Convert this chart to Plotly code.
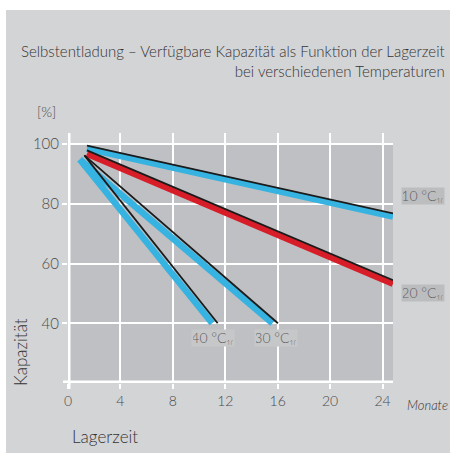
import plotly.graph_objects as go

# ---- data ----
x_ticks = [0, 4, 8, 12, 16, 20, 24]
y_ticks = [40, 60, 80, 100]

months_10 = [1.45, 24.8]
cap_10 = [98.5, 75.7]
edge_months_10 = [1.45, 24.8]
edge_cap_10 = [99.5, 76.8]

months_20 = [1.45, 24.8]
cap_20 = [96.75, 53.2]
edge_months_20 = [1.45, 24.8]
edge_cap_20 = [97.9, 54.4]

months_30 = [0.9, 15.6]
cap_30 = [94.8, 40.0]
edge_months_30 = [1.25, 16.02]
edge_cap_30 = [96.2, 40.0]

months_40 = [0.9, 11.0]
cap_40 = [94.8, 40.0]
edge_months_40 = [1.25, 11.42]
edge_cap_40 = [96.2, 40.0]

labels = ["10 °C", "20 °C", "30 °C", "40 °C"]
label_sub = "10"
label_x = [25.4, 25.4, 15.9, 11.1]
label_y = [82.7, 50.1, 35.0, 35.0]

title_text = "Selbstentladung – Verfügbare Kapazität als Funktion der Lagerzeit<br>bei verschiedenen Temperaturen"

# ---- styles ----
PANEL = "#d3d4d6"
PLOTBG = "#bfc0c3"
BLUE = "#36b3e1"
RED = "#d71d27"
EDGE = "#1b1b1b"
FONT = "Lato"
label_anchor = ["left", "left", "center", "center"]
label_bg = ["#bcbdbf", "#bcbdbf", "#c6c7c9", "#c6c7c9"]

X_RANGE = [0, 24.8]
Y_RANGE = [20, 103.7]

fig = go.Figure()

series = [
    (months_10, cap_10, edge_months_10, edge_cap_10, BLUE),
    (months_20, cap_20, edge_months_20, edge_cap_20, RED),
    (months_30, cap_30, edge_months_30, edge_cap_30, BLUE),
    (months_40, cap_40, edge_months_40, edge_cap_40, BLUE),
]
for mx, cy, ex, ey, col in series:
    fig.add_trace(go.Scatter(x=mx, y=cy, mode="lines", line=dict(color=col, width=6.5),
                             hoverinfo="skip", showlegend=False))
for mx, cy, ex, ey, col in series:
    fig.add_trace(go.Scatter(x=ex, y=ey, mode="lines", line=dict(color=EDGE, width=1.8),
                             hoverinfo="skip", showlegend=False))

W, H = 450, 455
L, R, T, B = 68, 57, 133, 72
PW, PH = W - L - R, H - T - B

def px_x(p):
    return (p - L) / PW

def px_y(p):
    return (H - B - p) / PH

def dx_paper(v):
    return (v - X_RANGE[0]) / (X_RANGE[1] - X_RANGE[0])

def dy_paper(v):
    return (v - Y_RANGE[0]) / (Y_RANGE[1] - Y_RANGE[0])

fig.update_layout(
    width=W, height=H,
    margin=dict(l=L, r=R, t=T, b=B, pad=0),
    paper_bgcolor=PANEL,
    plot_bgcolor=PANEL,
    font=dict(family=FONT, color="#4a4a4a", size=13, weight=300),
    showlegend=False,
    xaxis=dict(range=X_RANGE, tickvals=x_ticks, showgrid=True, gridcolor="white", gridwidth=2,
               zeroline=False, showline=False, ticks="outside", ticklen=5, tickcolor="white",
               tickwidth=2, tickfont=dict(size=14, color="#4a4a4a", family=FONT, weight=300)),
    yaxis=dict(range=Y_RANGE, tickvals=y_ticks, showgrid=True, gridcolor="white", gridwidth=2,
               zeroline=False, showline=False, ticks="outside", ticklen=5, tickcolor="white",
               tickwidth=2, tickfont=dict(size=15, color="#4a4a4a", family=FONT, weight=300)),
)

shapes = [
    dict(type="rect", xref="x", yref="y", x0=X_RANGE[0], x1=X_RANGE[1], y0=20, y1=100,
         fillcolor=PLOTBG, line=dict(width=0), layer="below"),
    dict(type="line", xref="x", yref="paper", x0=0, x1=0, y0=px_y(389), y1=1.0,
         line=dict(color="white", width=5), layer="above"),
    dict(type="line", xref="paper", yref="y", x0=px_x(63), x1=1.0, y0=20, y1=20,
         line=dict(color="white", width=5), layer="above"),
    dict(type="rect", xref="paper", yref="paper", x0=px_x(-20), x1=px_x(6), y0=px_y(480), y1=px_y(-20),
         fillcolor="white", line=dict(width=0), layer="above"),
    dict(type="rect", xref="paper", yref="paper", x0=px_x(-20), x1=px_x(480), y0=px_y(10), y1=px_y(-20),
         fillcolor="white", line=dict(width=0), layer="above"),
    dict(type="rect", xref="paper", yref="paper", x0=px_x(-20), x1=px_x(480), y0=px_y(480), y1=px_y(453),
         fillcolor="white", line=dict(width=0), layer="above"),
]
fig.update_layout(shapes=shapes)

ann = []
for t, lx, ly, anc, bg in zip(labels, label_x, label_y, label_anchor, label_bg):
    ann.append(dict(x=dx_paper(lx), y=dy_paper(ly), xref="paper", yref="paper",
                    text=t + "<span style='font-size:7px;baseline-shift:-3px'>" + label_sub + "</span>",
                    showarrow=False, xanchor=anc, yanchor="middle", bgcolor=bg, width=40, height=14,
                    borderpad=1, font=dict(size=14, color="#606060", family=FONT, weight=300)))

ann += [
    dict(x=px_x(447), y=px_y(61.5), xref="paper", yref="paper", text=title_text,
         showarrow=False, xanchor="right", yanchor="middle", align="right",
         font=dict(size=15, color="#333333", family=FONT, weight=300)),
    dict(x=px_x(58), y=px_y(112), xref="paper", yref="paper", text="[%]",
         showarrow=False, xanchor="right", yanchor="middle",
         font=dict(size=14, color="#4a4a4a", family=FONT, weight=300)),
    dict(x=px_x(20), y=px_y(352), xref="paper", yref="paper", text="Kapazität",
         showarrow=False, xanchor="center", yanchor="middle", textangle=-90,
         font=dict(size=17, color="#333333", family=FONT, weight=300)),
    dict(x=px_x(70), y=px_y(436), xref="paper", yref="paper", text="Lagerzeit",
         showarrow=False, xanchor="left", yanchor="middle",
         font=dict(size=17, color="#333333", family=FONT, weight=300)),
    dict(x=px_x(405), y=px_y(405), xref="paper", yref="paper", text="<i>Monate</i>",
         showarrow=False, xanchor="left", yanchor="middle",
         font=dict(size=13, color="#333333", family=FONT, weight=300)),
]
fig.update_layout(annotations=ann)

fig.write_html("out.html", config={"displayModeBar": False},
               post_script="document.body.style.margin='0';document.body.style.overflow='hidden';")
